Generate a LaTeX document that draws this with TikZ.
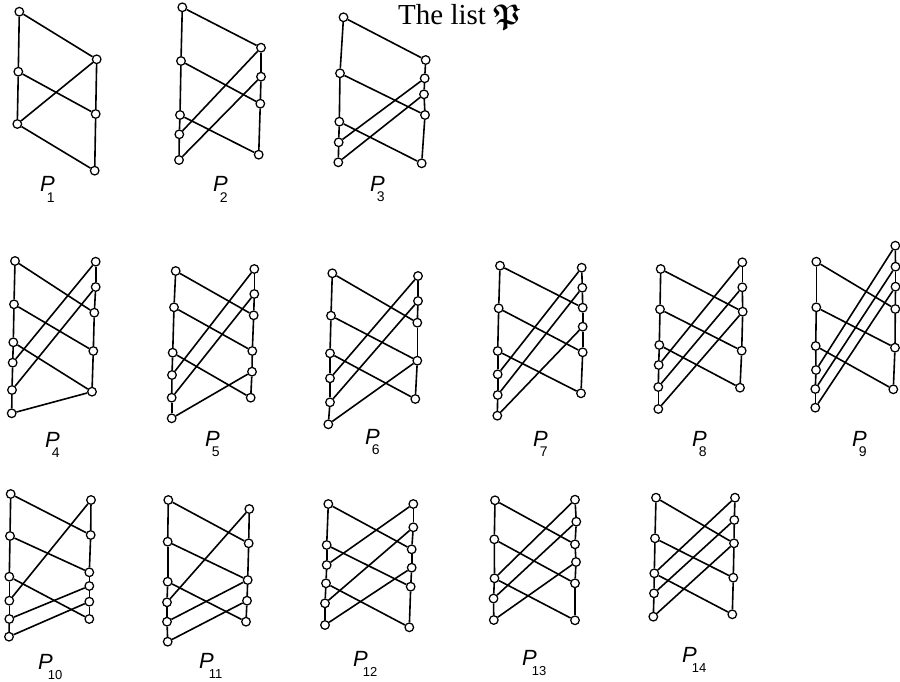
\documentclass[tikz,border=0pt]{standalone}
\usepackage{amsmath,amssymb}
\usepackage{graphicx}
\usepackage{fontspec}
\setmainfont{Liberation Serif}
\setsansfont{Liberation Sans}
\usetikzlibrary{backgrounds}
\tikzset{
  pt/.style={circle,draw,fill=white,inner sep=0pt,minimum size=8.6pt,line width=1.25pt},
  ln/.style={line width=1.6pt},
  lab/.style={anchor=base west,inner sep=0pt,font=\sffamily},
  ttl/.style={anchor=base west,inner sep=0pt,font=\fontsize{29}{30}\selectfont}
}
\newcommand{\pnodes}[3]{\foreach \x/\y [count=\i] in {#3} {\node[pt] (#1#2\i) at (\x,\y) {};}}
\newcommand{\pchain}[3]{\foreach \i in {2,...,#3}{\pgfmathtruncatemacro{\j}{\i-1}\draw[ln] (#1#2\j)--(#1#2\i);}}
\newcommand{\pedges}[2]{\foreach \a/\b in {#2}{\draw[ln] (#1L\a)--(#1R\b);}}
\newcommand{\plab}[1]{{\fontsize{22}{22}\selectfont\itshape P}\kern-8pt\raisebox{-10pt}{\fontsize{14}{14}\selectfont #1}}
\newcommand{\plabb}[1]{{\fontsize{22}{22}\selectfont\itshape P}\kern-5pt\raisebox{-10pt}{\fontsize{13}{13}\selectfont #1}}
\begin{document}
\begin{tikzpicture}[x=1pt,y=-1pt]
\useasboundingbox (0,0) rectangle (900,682);
% P1
\pnodes{A}{L}{19.3/11.7, 18.3/71.7, 17.3/124}
\pnodes{A}{R}{96.7/59.3, 95.7/114, 94.7/170.7}
% P2
\pnodes{B}{L}{182.3/7.3, 181/61, 180/115, 179.3/134.3, 179/160}
\pnodes{B}{R}{261/47.7, 261/76.7, 260.3/103.7, 258.7/154.7}
% P3
\pnodes{C}{L}{343.5/17.3, 340/73.3, 339.3/121.7, 338.7/142.3, 338.3/162.3}
\pnodes{C}{R}{425.7/60, 424.7/78.3, 424/94.3, 425/115, 421.7/163.3}
% P4
\pnodes{D}{L}{15/261, 14/304.3, 13.3/342.3, 12.7/362.7, 12/390, 11.7/413.3}
\pnodes{D}{R}{95.7/261.7, 95.7/287, 94.3/312.7, 93.3/351, 92/391.7}
% P5
\pnodes{E}{L}{175.7/271, 174/307.3, 172.7/352.7, 172/375, 171.7/397.7, 171.7/418.3}
\pnodes{E}{R}{254.3/269, 254.3/294, 253.7/315.3, 252.3/351, 252/371.7, 250.7/397.7}
% P6
\pnodes{F}{L}{332.3/273.3, 331/315.7, 330/353.3, 330/378.3, 330/402.3, 328.3/424.3}
\pnodes{F}{R}{418/276, 418/301, 417.3/322.7, 417.3/360.7, 415.3/399}
% P7
\pnodes{G}{L}{500/265.7, 498.7/308.3, 497.7/351, 497.7/374.3, 497.7/395, 497.3/415.7}
\pnodes{G}{R}{581.7/267.7, 582.3/287.7, 582.7/307.7, 582.7/326.7, 582.7/352.3, 581/393.3}
% P8
\pnodes{H}{L}{660.7/269, 660/309.3, 659.3/345, 658.7/365, 658.3/387, 658.3/409}
\pnodes{H}{R}{742.3/262.3, 742.3/287.3, 742.7/311.7, 741.7/350.7, 740/387.7}
% P9
\pnodes{I}{L}{816.3/261.7, 816.3/307.3, 815.7/346, 816/370, 815.3/389, 815.3/407.7}
\pnodes{I}{R}{895.3/245.7, 895.5/266.7, 895.5/286.7, 895.3/309, 895/347.7, 893.3/389.3}
% P10
\pnodes{J}{L}{10.7/494, 10/536, 9.3/576.7, 9.3/600.7, 9.3/619, 9/636.7}
\pnodes{J}{R}{91/500, 90.7/535, 89.3/572.3, 89.3/586, 89.3/601.7, 89.3/619}
% P11
\pnodes{K}{L}{168.3/500, 167.7/541.7, 167.7/581.7, 167/602.3, 167/621.7, 167.7/641.7}
\pnodes{K}{R}{249.3/509, 248.7/543.3, 247.7/580, 247/600.7, 246/621.7}
% P12
\pnodes{M}{L}{328.3/504, 326.7/545, 326.7/565, 326/583.3, 325/603.3, 325/625}
\pnodes{M}{R}{413.3/504, 413.3/527.3, 411.7/549.3, 411.7/567.7, 410.7/586.7, 409.3/627.3}
% P13
\pnodes{N}{L}{495/500.3, 494.3/539.3, 494.5/578.3, 493.5/598.5, 493.8/620}
\pnodes{N}{R}{575/499.7, 576.3/521.7, 575/544.3, 576/562, 575/583.3, 575/620.3}
% P14
\pnodes{O}{L}{656/497.7, 655/538.3, 654.3/573.3, 654/593.3, 653.3/616.7}
\pnodes{O}{R}{735/497.7, 734.3/520, 734/543.3, 733.3/577.7, 732.3/614.3}

\begin{scope}[on background layer]
\pchain{A}{L}{3}\pchain{A}{R}{3}\pedges{A}{1/1, 2/2, 3/1, 3/3}
\pchain{B}{L}{5}\pchain{B}{R}{4}\pedges{B}{1/1, 2/3, 3/4, 4/1, 5/2}
\pchain{C}{L}{5}\pchain{C}{R}{5}\pedges{C}{1/1, 2/4, 3/5, 4/2, 5/3}
\pchain{D}{L}{6}\pchain{D}{R}{5}\pedges{D}{1/3, 2/4, 3/5, 4/1, 5/2, 6/5}
\pchain{E}{L}{6}\pchain{E}{R}{6}\pedges{E}{1/3, 2/4, 3/6, 4/1, 5/2, 6/5}
\pchain{F}{L}{6}\pchain{F}{R}{5}\pedges{F}{1/3, 2/4, 3/5, 4/1, 5/2, 6/4}
\pchain{G}{L}{6}\pchain{G}{R}{6}\pedges{G}{1/3, 2/5, 3/6, 4/1, 5/2, 6/4}
\pchain{H}{L}{6}\pchain{H}{R}{5}\pedges{H}{1/3, 2/4, 3/5, 4/1, 5/2, 6/3}
\pchain{I}{L}{6}\pchain{I}{R}{6}\pedges{I}{1/4, 2/5, 3/6, 4/1, 5/2, 6/3}
\pchain{J}{L}{6}\pchain{J}{R}{6}\pedges{J}{1/2, 2/3, 3/6, 4/1, 5/4, 6/5}
\pchain{K}{L}{6}\pchain{K}{R}{5}\pedges{K}{1/2, 2/3, 3/5, 4/1, 5/3, 6/4}
\pchain{M}{L}{6}\pchain{M}{R}{6}\pedges{M}{1/3, 2/5, 3/1, 4/6, 5/2, 6/4}
\pchain{N}{L}{5}\pchain{N}{R}{6}\pedges{N}{1/3, 2/5, 3/6, 3/1, 4/2, 5/4}
\pchain{O}{L}{5}\pchain{O}{R}{5}\pedges{O}{1/3, 2/4, 3/5, 3/1, 4/2, 5/3}
\end{scope}

% labels
\node[lab] (lab1) at (40,192) {\plab{1}};
\node[lab] (lab2) at (213,192) {\plab{2}};
\node[lab] (lab3) at (370,191) {\plab{3}};
\node[lab] (lab4) at (45,447) {\plab{4}};
\node[lab] (lab5) at (205,446) {\plab{5}};
\node[lab] (lab6) at (365,444) {\plab{6}};
\node[lab] (lab7) at (533,446) {\plab{7}};
\node[lab] (lab8) at (692,446) {\plab{8}};
\node[lab] (lab9) at (852,446) {\plab{9}};
\node[lab] (lab10) at (38,669) {\plabb{10}};
\node[lab] (lab11) at (199,668) {\plabb{11}};
\node[lab] (lab12) at (353,666) {\plabb{12}};
\node[lab] (lab13) at (522,665) {\plabb{13}};
\node[lab] (lab14) at (682,662) {\plabb{14}};
% title
\node[ttl] (title) at (398,25) {The list {\fontsize{24.88}{25}\selectfont\scalebox{1.15}{$\boldsymbol{\mathfrak{P}}$}}};
\end{tikzpicture}
\end{document}
